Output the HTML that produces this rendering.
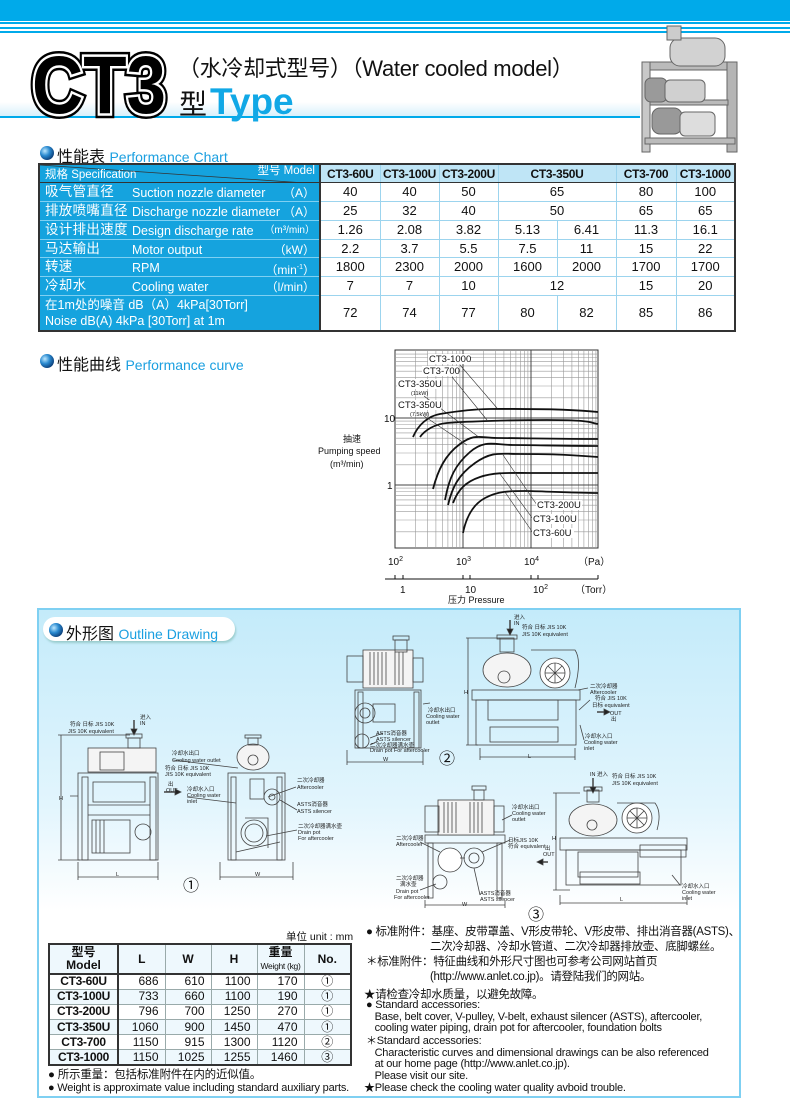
<!DOCTYPE html>
<html><head><meta charset="utf-8">
<style>
*{margin:0;padding:0;box-sizing:border-box}
body{width:790px;height:1118px;background:#fff;position:relative;overflow:hidden;font-family:"Liberation Sans","Noto Sans CJK SC",sans-serif;color:#111}
.a{position:absolute;white-space:nowrap}
table{border-collapse:collapse;table-layout:fixed}
#pt{position:absolute;left:38px;top:163px;width:696px;border:2px solid #333}
#pt td{border:1px solid #9cd4ee;border-left:1px solid #999;text-align:center;font-size:13px;height:18.8px;padding:0;line-height:16px;white-space:nowrap;overflow:hidden}
#pt td.s{background:#15a3de;color:#fff;position:relative;text-align:left;border:1px solid #7fd0f2;border-right:2px solid #333}
#pt tr.h td{background:#bfe5f6;font-weight:bold;font-size:12px;letter-spacing:-0.3px;border-bottom:1px solid #333}
.cn{position:absolute;left:5px;top:1px;font-size:13.5px;letter-spacing:0.3px}
.en{position:absolute;left:92px;top:2px;font-size:12.5px}
.un{position:absolute;right:4px;top:2px;font-size:12px}
#bt{position:absolute;left:48px;top:943px;width:302px;border:2px solid #333}
#bt td{border:1px solid #9aa;text-align:right;padding-right:6px;font-size:12px;height:15.2px;line-height:13px;white-space:nowrap;overflow:hidden}
#bt tr.h td{background:#c6e4f2;text-align:center;padding:0;height:30px;font-weight:bold;font-size:12px;line-height:13px;border-bottom:2px solid #333}
#bt td.m{text-align:center;font-weight:bold;padding:0;border-right:2px solid #333;letter-spacing:-0.3px}
#bt tr:nth-child(odd) td{background:#eef8fd}
#bt td.c{text-align:center;padding:0}
.t{font-size:11px;line-height:14px;letter-spacing:-0.2px}
</style></head><body>

<div class="a" style="left:0;top:0;width:790px;height:21px;background:#00aaea"></div>
<div class="a" style="left:0;top:22px;width:790px;height:2px;background:#00aaea"></div>
<div class="a" style="left:0;top:27px;width:790px;height:2px;background:#00aaea"></div>
<div class="a" style="left:0;top:31px;width:790px;height:2px;background:#00aaea"></div>
<div class="a" style="left:0;top:102px;width:640px;height:14px;background:linear-gradient(#fff,#d8f1fb)"></div>
<div class="a" style="left:0;top:116px;width:640px;height:2px;background:#00aaea"></div>

<svg class="a" style="left:0;top:0" width="790" height="1118" viewBox="0 0 790 1118">
 <defs><radialGradient id="b" cx="0.35" cy="0.35" r="0.7"><stop offset="0" stop-color="#bde8ff"/><stop offset="0.5" stop-color="#2a8ad0"/><stop offset="1" stop-color="#0b3d78"/></radialGradient></defs>
 <g font-family="Liberation Sans" font-weight="bold" font-size="82">
  <text x="32" y="113" textLength="134" lengthAdjust="spacingAndGlyphs" stroke="#000" stroke-width="10" fill="#000">CT3</text>
  <text x="32" y="113" textLength="134" lengthAdjust="spacingAndGlyphs" stroke="#fff" stroke-width="5" fill="#000">CT3</text>
  <text x="32" y="113" textLength="134" lengthAdjust="spacingAndGlyphs" fill="#000">CT3</text>
 </g>
 <g stroke="#666" stroke-width="1">
  <rect x="642" y="62" width="95" height="8" fill="#bbb"/>
  <rect x="642" y="62" width="8" height="90" fill="#c8c8c8"/>
  <rect x="727" y="62" width="10" height="90" fill="#b5b5b5"/>
  <rect x="670" y="38" width="55" height="28" rx="10" fill="#d2d2d2"/>
  <rect x="667" y="26" width="14" height="14" fill="#ccc"/>
  <rect x="650" y="100" width="78" height="5" fill="#bbb"/>
  <rect x="645" y="78" width="22" height="24" rx="6" fill="#9a9a9a"/>
  <rect x="665" y="80" width="40" height="22" rx="5" fill="#d0d0d0"/>
  <rect x="652" y="108" width="30" height="26" rx="8" fill="#999"/>
  <rect x="680" y="112" width="35" height="24" rx="5" fill="#ddd"/>
  <rect x="645" y="138" width="90" height="6" fill="#bbb"/>
 </g>
 <circle cx="47" cy="153" r="7" fill="url(#b)"/>
 <circle cx="47" cy="361" r="7" fill="url(#b)"/>

 <rect x="395" y="350" width="203" height="198" fill="#fff" stroke="#333" stroke-width="1"/>
 <path stroke="#999" stroke-width="0.6" fill="none" d="M415.5 350V548M427.4 350V548M435.9 350V548M442.5 350V548M447.9 350V548M452.5 350V548M456.4 350V548M459.9 350V548M483.5 350V548M495.4 350V548M503.9 350V548M510.5 350V548M515.9 350V548M520.5 350V548M524.4 350V548M527.9 350V548M551.5 350V548M563.4 350V548M571.9 350V548M578.5 350V548M583.9 350V548M588.5 350V548M592.4 350V548M595.9 350V548
 M395 397.8H598M395 386H598M395 377.7H598M395 371.2H598M395 365.9H598M395 361.4H598M395 357.5H598M395 354.1H598M395 464.8H598M395 453H598M395 444.7H598M395 438.2H598M395 432.9H598M395 428.4H598M395 424.5H598M395 421.1H598M395 531.8H598M395 520H598M395 511.7H598M395 505.2H598M395 499.9H598M395 495.4H598M395 491.5H598M395 488.1H598"/>
 <path stroke="#444" stroke-width="1" fill="none" d="M463 350V548M531 350V548M395 418H598M395 485H598"/>
 <g stroke="#111" stroke-width="1.8" fill="none">
  <path d="M413 437C418 425 428 416 440 414S470 409 490 409S560 408 598 412"/>
  <path d="M420 437C425 430 435 424 447 423S500 420 547 420S590 423 598 424"/>
  <path d="M433 489C438 470 445 455 460 444S480 438 497 438S560 439 598 439"/>
  <path d="M445 500C449 478 455 465 470 452S495 445 513 445S570 446 598 446"/>
  <path d="M448 505C452 488 458 475 475 463S500 454 520 454S560 454 598 457"/>
  <path d="M453 503C458 490 465 482 480 477S510 473 530 473S580 473 598 473"/>
  <path d="M463 533C466 518 472 505 485 498S510 491 525 491S570 493 598 493"/>
 </g>
 <g stroke="#333" stroke-width="0.6" fill="none">
  <path d="M460 365L497 408M452 377L487 420M424 396L480 438M424 416L467 445M537 505L503 455M533 519L500 474M533 533L505 492"/>
 </g>
 <g font-family="Liberation Sans" font-size="9.5" fill="#111">
  <rect x="428" y="354" width="42" height="10" fill="#fff"/><text x="429" y="362">CT3-1000</text>
  <rect x="422" y="366" width="36" height="10" fill="#fff"/><text x="423" y="374">CT3-700</text>
  <rect x="397" y="379" width="44" height="10" fill="#fff"/><text x="398" y="387">CT3-350U</text>
  <text x="411" y="395" font-size="5.5">(11kW)</text>
  <rect x="397" y="400" width="44" height="10" fill="#fff"/><text x="398" y="408">CT3-350U</text>
  <text x="410" y="416" font-size="5.5">(7.5kW)</text>
  <rect x="536" y="500" width="46" height="10" fill="#fff"/><text x="537" y="508">CT3-200U</text>
  <rect x="532" y="514" width="46" height="10" fill="#fff"/><text x="533" y="522">CT3-100U</text>
  <rect x="532" y="528" width="42" height="10" fill="#fff"/><text x="533" y="536">CT3-60U</text>
 </g>
 <g font-family="Liberation Sans" font-size="10" fill="#111">
  <text x="384" y="422">10</text><text x="387" y="489">1</text>
  <text x="388" y="565">10<tspan font-size="7" dy="-4">2</tspan></text>
  <text x="456" y="565">10<tspan font-size="7" dy="-4">3</tspan></text>
  <text x="524" y="565">10<tspan font-size="7" dy="-4">4</tspan></text>
  <text x="578" y="565">（Pa）</text>
  <text x="400" y="593">1</text><text x="465" y="593">10</text>
  <text x="533" y="593">10<tspan font-size="7" dy="-4">2</tspan></text>
  <text x="575" y="593">（Torr）</text>
  <text x="448" y="603" font-size="9">压力 Pressure</text>
  <text x="343" y="442" font-size="9">抽速</text>
  <text x="318" y="454" font-size="9">Pumping speed</text>
  <text x="330" y="467" font-size="9">(m³/min)</text>
 </g>
 <path stroke="#111" stroke-width="1" fill="none" d="M385 579H598M395 575V579M403 575V579M463 575V579M470 575V579M531 575V579M538 575V579M598 575V579"/>
</svg>

<div class="a" style="left:178px;top:55px;font-size:22px;line-height:28px;letter-spacing:-0.3px">（水冷却式型号）（Water cooled model）</div>
<div class="a" style="left:179px;top:86px;font-size:28px;line-height:32px">型<span style="color:#11a8e6;font-weight:bold;font-size:37px;margin-left:3px">Type</span></div>

<div class="a" style="left:57px;top:143px;font-size:16px">性能表 <span style="color:#1a9fe0;font-size:14px">Performance Chart</span></div>
<div class="a" style="left:57px;top:351px;font-size:16px">性能曲线 <span style="color:#1a9fe0;font-size:14px">Performance curve</span></div>

<table id="pt">
<colgroup><col style="width:281px"><col style="width:60px"><col style="width:59px"><col style="width:59px"><col style="width:59px"><col style="width:59px"><col style="width:60px"><col style="width:59px"></colgroup>
<tr class="h"><td class="s" style="background:#15a3de;font-weight:normal;letter-spacing:0"><svg style="position:absolute;left:0;top:0" width="280" height="19"><line x1="0" y1="0" x2="280" y2="19" stroke="#333" stroke-width="0.8"/></svg><span style="position:absolute;left:5px;top:4px;font-size:11.5px;line-height:13px">规格 Specification</span><span style="position:absolute;right:4px;top:0px;font-size:11.5px;line-height:13px">型号 Model</span></td><td>CT3-60U</td><td>CT3-100U</td><td>CT3-200U</td><td colspan="2">CT3-350U</td><td>CT3-700</td><td>CT3-1000</td></tr>
<tr><td class="s"><span class="cn">吸气管直径</span><span class="en">Suction nozzle diameter</span><span class="un">（A）</span></td><td>40</td><td>40</td><td>50</td><td colspan="2">65</td><td>80</td><td>100</td></tr>
<tr><td class="s"><span class="cn">排放喷嘴直径</span><span class="en">Discharge nozzle diameter</span><span class="un">（A）</span></td><td>25</td><td>32</td><td>40</td><td colspan="2">50</td><td>65</td><td>65</td></tr>
<tr><td class="s"><span class="cn">设计排出速度</span><span class="en">Design discharge rate</span><span class="un" style="font-size:10px">（m³/min）</span></td><td>1.26</td><td>2.08</td><td>3.82</td><td>5.13</td><td>6.41</td><td>11.3</td><td>16.1</td></tr>
<tr><td class="s"><span class="cn">马达输出</span><span class="en">Motor output</span><span class="un">（kW）</span></td><td>2.2</td><td>3.7</td><td>5.5</td><td>7.5</td><td>11</td><td>15</td><td>22</td></tr>
<tr><td class="s"><span class="cn">转速</span><span class="en">RPM</span><span class="un">（min<sup style="font-size:7px">-1</sup>）</span></td><td>1800</td><td>2300</td><td>2000</td><td>1600</td><td>2000</td><td>1700</td><td>1700</td></tr>
<tr><td class="s"><span class="cn">冷却水</span><span class="en">Cooling water</span><span class="un">（l/min）</span></td><td>7</td><td>7</td><td>10</td><td colspan="2">12</td><td>15</td><td>20</td></tr>
<tr><td class="s" style="height:35px"><span style="position:absolute;left:5px;top:1px;font-size:12.5px;line-height:16px">在1m处的噪音 dB（A）4kPa[30Torr]<br>Noise dB(A) 4kPa [30Torr] at 1m</span></td><td>72</td><td>74</td><td>77</td><td>80</td><td>82</td><td>85</td><td>86</td></tr>
</table>

<div class="a" style="left:37px;top:608px;width:704px;height:490px;border:2px solid #7fd0f2;background:linear-gradient(#c4ebfa 0%,#e2f5fd 40%,#fff 62%,#fff 100%)"></div>
<div class="a" style="left:43px;top:617px;width:192px;height:24px;border-radius:12px;background:#fff;box-shadow:1px 2px 2px #9cc"></div>
<svg class="a" style="left:0;top:0" width="790" height="1118"><defs><radialGradient id="b2" cx="0.35" cy="0.35" r="0.7"><stop offset="0" stop-color="#bde8ff"/><stop offset="0.5" stop-color="#2a8ad0"/><stop offset="1" stop-color="#0b3d78"/></radialGradient></defs><circle cx="56" cy="630" r="7" fill="url(#b2)"/></svg>
<div class="a" style="left:66px;top:620px;font-size:16px">外形图 <span style="color:#1a9fe0;font-size:14px">Outline Drawing</span></div>

<svg class="a" style="left:0;top:0" width="790" height="1118" viewBox="0 0 790 1118">
 <g stroke="#444" stroke-width="0.8" fill="none">
  <rect x="78" y="773" width="80" height="87"/>
  <rect x="82" y="777" width="6" height="83"/><rect x="150" y="777" width="6" height="83"/>
  <rect x="88" y="748" width="68" height="24" fill="#f4f4f4"/>
  <rect x="128" y="738" width="12" height="10"/><rect x="126" y="734" width="16" height="4"/>
  <rect x="100" y="752" width="24" height="18"/><rect x="93" y="782" width="52" height="20"/>
  <path d="M88 805H150M88 815H150M78 796H70"/>
  <rect x="92" y="820" width="38" height="33"/><path d="M96 820V853M100 820V853M104 820V853"/>
  <circle cx="143" cy="832" r="8"/>
  <path d="M61 735V860M58 735H130M58 860H80M78 877H158M78 862V880M158 862V880"/>
  <path d="M134 720V733" stroke-width="1.5"/><path d="M131 729L134 735L137 729Z" fill="#222"/>
  <path d="M164 792H178" stroke-width="1.5"/><path d="M175 789L181 792L175 795Z" fill="#222"/>
  <rect x="228" y="773" width="57" height="87"/>
  <rect x="231" y="777" width="5" height="83"/><rect x="277" y="777" width="5" height="83"/>
  <ellipse cx="253" cy="757" rx="16" ry="13" fill="#f4f4f4"/><circle cx="253" cy="760" r="5"/>
  <rect x="248" y="738" width="10" height="7"/><rect x="245" y="735" width="16" height="3"/>
  <rect x="250" y="779" width="14" height="20"/><circle cx="272" cy="797" r="8"/><circle cx="272" cy="797" r="3"/>
  <circle cx="254" cy="833" r="13"/><circle cx="254" cy="833" r="9"/><path d="M245 818H268V848M236 852L280 842"/>
  <path d="M220 862V880M293 862V880M220 877H293"/>
  <path d="M173 760L238 768M187 797L236 803M296 787L268 797M297 810L280 800M297 830L266 836"/>
  <rect x="355" y="690" width="66" height="58"/>
  <rect x="358" y="692" width="5" height="56"/><rect x="414" y="692" width="5" height="56"/>
  <rect x="363" y="650" width="50" height="38" fill="#f4f4f4"/><rect x="347" y="656" width="16" height="26"/><rect x="413" y="658" width="10" height="24"/>
  <rect x="395" y="640" width="12" height="12"/><rect x="393" y="636" width="16" height="4"/>
  <path d="M370 652V685M374 652V685M378 652V685M382 652V685M386 652V685M395 652V685M399 652V685M403 652V685"/>
  <circle cx="365" cy="713" r="10"/><circle cx="365" cy="713" r="5"/><rect x="373" y="704" width="22" height="18"/>
  <circle cx="362" cy="741" r="7"/>
  <path d="M347 750V765M423 750V765M347 762H423M423 704L430 703M383 733L370 738M378 741L370 745"/>
  <rect x="472" y="690" width="108" height="10"/><rect x="476" y="700" width="100" height="45"/>
  <rect x="488" y="700" width="70" height="20"/><rect x="490" y="727" width="68" height="15"/>
  <ellipse cx="507" cy="670" rx="24" ry="17" fill="#f4f4f4"/><circle cx="504" cy="677" r="6"/>
  <rect x="500" y="638" width="14" height="14"/><rect x="497" y="635" width="20" height="4"/>
  <circle cx="555" cy="673" r="15" fill="#fff"/><circle cx="555" cy="673" r="10"/>
  <path d="M545 673H565M555 663V683M548 666L562 680M562 666L548 680"/>
  <path d="M531 650H575Q582 660 575 688"/>
  <path d="M510 620V633" stroke-width="1.5"/><path d="M507 629L510 635L513 629Z" fill="#222"/>
  <path d="M468 638V745M466 638H500M466 745H478M480 748V760M575 748V760M480 757H575"/>
  <path d="M597 712H607" stroke-width="1.5"/><path d="M604 709L610 712L604 715Z" fill="#222"/>
  <path d="M578 690L588 688M579 710L590 700M580 725L584 740"/>
  <rect x="425" y="835" width="80" height="8"/><rect x="428" y="843" width="5" height="55"/><rect x="497" y="843" width="5" height="55"/>
  <rect x="438" y="800" width="56" height="35" fill="#f4f4f4"/><rect x="425" y="806" width="14" height="26"/><rect x="494" y="806" width="10" height="26"/>
  <rect x="474" y="790" width="10" height="10"/><rect x="472" y="786" width="14" height="4"/>
  <path d="M444 802V833M448 802V833M452 802V833M456 802V833M470 802V833M474 802V833M478 802V833M482 802V833"/>
  <circle cx="450" cy="860" r="12" fill="#fff"/><circle cx="474" cy="858" r="10"/><circle cx="474" cy="858" r="5"/><path d="M460 858H465"/>
  <circle cx="440" cy="882" r="7"/>
  <path d="M425 900V908M505 900V908M425 905H505M420 842L440 852M420 890L436 884M480 895L474 868M510 840L482 852M512 815L502 820"/>
  <rect x="560" y="838" width="127" height="12"/><rect x="566" y="850" width="115" height="35"/>
  <rect x="578" y="852" width="60" height="25"/><rect x="640" y="845" width="46" height="12"/>
  <rect x="580" y="872" width="60" height="12"/>
  <ellipse cx="593" cy="820" rx="24" ry="16" fill="#f4f4f4"/><circle cx="592" cy="825" r="5"/>
  <rect x="587" y="790" width="12" height="12"/><rect x="584" y="787" width="18" height="4"/>
  <circle cx="637" cy="818" r="15" fill="#fff"/><circle cx="637" cy="818" r="10"/>
  <path d="M627 818H647M637 808V828M630 811L644 825M644 811L630 825"/>
  <path d="M617 803H655Q662 812 657 830"/>
  <path d="M593 778V792" stroke-width="1.5"/><path d="M590 787L593 793L596 787Z" fill="#222"/>
  <path d="M556 793V890M553 793H580M553 890H570M560 895V905M687 895V905M560 903H687"/>
  <path d="M548 862H540" stroke-width="1.5"/><path d="M543 859L537 862L543 865Z" fill="#222"/>
  <path d="M680 885L672 875"/>
 </g>
 <g font-family="Liberation Sans,Noto Sans CJK SC,sans-serif" font-size="5.5" fill="#222">
  <text x="70" y="726">符合 日标 JIS 10K</text><text x="68" y="733">JIS 10K equivalent</text>
  <text x="140" y="719">进入</text><text x="140" y="725">IN</text>
  <text x="172" y="755">冷却水出口</text><text x="172" y="762">Cooling water outlet</text>
  <text x="165" y="770">符合 日标 JIS 10K</text><text x="165" y="776">JIS 10K equivalent</text>
  <text x="168" y="786">出</text><text x="166" y="792">OUT</text>
  <text x="187" y="791">冷却水入口</text><text x="187" y="797">Cooling water</text><text x="187" y="803">inlet</text>
  <text x="297" y="782">二次冷却器</text><text x="297" y="789">Aftercooler</text>
  <text x="297" y="806">ASTS消音器</text><text x="297" y="813">ASTS silencer</text>
  <text x="298" y="828">二次冷却器满水壶</text><text x="298" y="834">Drain pot</text><text x="298" y="840">For aftercooler</text>
  <text x="59" y="800">H</text><text x="116" y="876">L</text><text x="255" y="876">W</text>
  <text x="428" y="712">冷却水出口</text><text x="426" y="718">Cooling water</text><text x="426" y="724">outlet</text>
  <text x="376" y="735">ASTS消音器</text><text x="376" y="741">ASTS silencer</text>
  <text x="370" y="747">二次冷却器满水壶</text><text x="370" y="752">Drain pot For aftercooler</text>
  <text x="383" y="761">W</text>
  <text x="514" y="619">进入</text><text x="514" y="625">IN</text>
  <text x="522" y="629">符合 日标 JIS 10K</text><text x="522" y="636">JIS 10K equivalent</text>
  <text x="590" y="688">二次冷却器</text><text x="590" y="694">Aftercooler</text>
  <text x="595" y="700">符合 JIS 10K</text><text x="592" y="707">日标 equivalent</text>
  <text x="610" y="715">OUT</text><text x="611" y="721">出</text>
  <text x="585" y="738">冷却水入口</text><text x="584" y="744">Cooling water</text><text x="584" y="750">inlet</text>
  <text x="464" y="694">H</text><text x="528" y="758">L</text>
  <text x="512" y="809">冷却水出口</text><text x="512" y="815">Cooling water</text><text x="512" y="821">outlet</text>
  <text x="396" y="840">二次冷却器</text><text x="396" y="846">Aftercooler</text>
  <text x="508" y="842">日标JIS 10K</text><text x="508" y="848">符合 equivalent</text>
  <text x="545" y="850">出</text><text x="543" y="856">OUT</text>
  <text x="396" y="880">二次冷却器</text><text x="400" y="886">满水壶</text><text x="396" y="893">Drain pot</text><text x="394" y="899">For aftercooler</text>
  <text x="480" y="895">ASTS消音器</text><text x="480" y="901">ASTS silencer</text>
  <text x="462" y="906">W</text>
  <text x="590" y="776">IN 进入</text><text x="612" y="778">符合 日标 JIS 10K</text><text x="612" y="785">JIS 10K equivalent</text>
  <text x="552" y="840">H</text><text x="620" y="901">L</text>
  <text x="682" y="888">冷却水入口</text><text x="682" y="894">Cooling water</text><text x="682" y="900">inlet</text>
 </g>
 <g font-family="Liberation Sans,Noto Sans CJK SC,sans-serif" font-size="16" fill="#111">
  <text x="183" y="891">①</text><text x="439" y="764">②</text><text x="528" y="920">③</text>
 </g>
</svg>

<div class="a" style="left:286px;top:929px;font-size:10.5px">单位 unit : mm</div>
<table id="bt">
<colgroup><col style="width:69px"><col style="width:47px"><col style="width:46px"><col style="width:46px"><col style="width:47px"><col style="width:47px"></colgroup>
<tr class="h"><td style="border-right:2px solid #333">型号<br>Model</td><td>L</td><td>W</td><td>H</td><td>重量<br><span style="font-weight:normal;font-size:8.5px;letter-spacing:-0.3px">Weight (kg)</span></td><td>No.</td></tr>
<tr><td class="m">CT3-60U</td><td>686</td><td>610</td><td>1100</td><td>170</td><td class="c">①</td></tr>
<tr><td class="m">CT3-100U</td><td>733</td><td>660</td><td>1100</td><td>190</td><td class="c">①</td></tr>
<tr><td class="m">CT3-200U</td><td>796</td><td>700</td><td>1250</td><td>270</td><td class="c">①</td></tr>
<tr><td class="m">CT3-350U</td><td>1060</td><td>900</td><td>1450</td><td>470</td><td class="c">①</td></tr>
<tr><td class="m">CT3-700</td><td>1150</td><td>915</td><td>1300</td><td>1120</td><td class="c">②</td></tr>
<tr><td class="m">CT3-1000</td><td>1150</td><td>1025</td><td>1255</td><td>1460</td><td class="c">③</td></tr>
</table>
<div class="a t" style="left:48px;top:1068px;font-size:11.5px">● 所示重量：包括标准附件在内的近似值。</div>
<div class="a t" style="left:48px;top:1081px;font-size:11px;letter-spacing:-0.2px">● Weight is approximate value including standard auxiliary parts.</div>

<div class="a" style="left:366px;top:925px;font-size:11.5px;line-height:15px;letter-spacing:-0.3px">● 标准附件：基座、皮带罩盖、V形皮带轮、V形皮带、排出消音器(ASTS)、<br><span style="margin-left:64px">二次冷却器、冷却水管道、二次冷却器排放壶、底脚螺丝。</span></div>
<div class="a" style="left:366px;top:955px;font-size:11.5px;line-height:15px;letter-spacing:-0.3px">＊标准附件：特征曲线和外形尺寸图也可参考公司网站首页<br><span style="margin-left:64px">(http://www.anlet.co.jp)。请登陆我们的网站。</span></div>
<div class="a" style="left:364px;top:986px;font-size:11.5px;letter-spacing:-0.3px">★请检查冷却水质量，以避免故障。</div>
<div class="a t" style="left:366px;top:1000px;line-height:11.5px;font-size:11px;letter-spacing:-0.2px">● Standard accessories:<br>&nbsp;&nbsp;&nbsp;Base, belt cover, V-pulley, V-belt, exhaust silencer (ASTS), aftercooler,<br>&nbsp;&nbsp;&nbsp;cooling water piping, drain pot for aftercooler, foundation bolts</div>
<div class="a t" style="left:366px;top:1036px;line-height:11.5px;font-size:11px;letter-spacing:-0.2px">＊Standard accessories:<br>&nbsp;&nbsp;&nbsp;Characteristic curves and dimensional drawings can be also referenced<br>&nbsp;&nbsp;&nbsp;at our home page (http://www.anlet.co.jp).<br>&nbsp;&nbsp;&nbsp;Please visit our site.</div>
<div class="a t" style="left:364px;top:1081px;font-size:11px;letter-spacing:-0.2px">★Please check the cooling water quality avboid trouble.</div>
</body></html>
